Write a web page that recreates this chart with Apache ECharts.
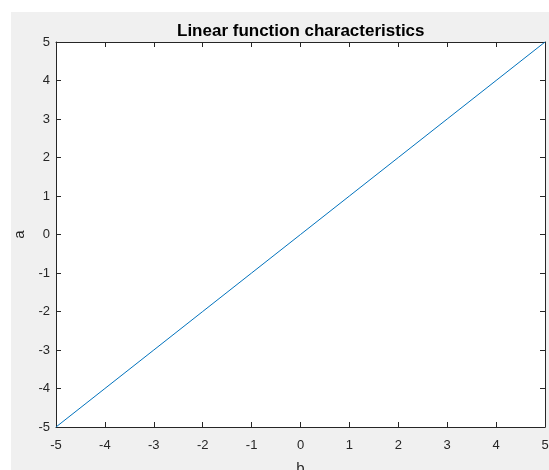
<!DOCTYPE html>
<html>
<head>
<meta charset="utf-8">
<script src="https://cdn.jsdelivr.net/npm/echarts@6/dist/echarts.min.js"></script>
<style>
html,body{margin:0;padding:0;background:#fff;}
#chart{width:549px;height:470px;}
</style>
</head>
<body>
<div id="chart"></div>
<script>
var bValues = [-5, -4, -3, -2, -1, 0, 1, 2, 3, 4, 5];
var aValues = [-5, -4, -3, -2, -1, 0, 1, 2, 3, 4, 5];
var titleText = 'Linear function characteristics';
var xName = 'b';
var yName = 'a';

var data = bValues.map(function (b, i) { return [b, aValues[i]]; });
var font = 'Liberation Sans, Arial, Helvetica, sans-serif';
var axisColor = '#262626';

var chart = echarts.init(document.getElementById('chart'), null, {renderer: 'canvas'});

function mkX(pos, showLabel, name) {
  return {
    type: 'value', min: -5, max: 5, interval: 1, position: pos,
    name: name || '', nameLocation: 'middle', nameGap: 34,
    nameTextStyle: {fontFamily: font, fontSize: 15, color: axisColor},
    axisLine: {show: true, onZero: false, lineStyle: {color: axisColor, width: 1}},
    axisTick: {show: true, inside: true, length: 5, lineStyle: {color: axisColor}},
    axisLabel: {show: showLabel, fontFamily: font, fontSize: 13, color: axisColor, margin: 12},
    splitLine: {show: false}
  };
}
function mkY(pos, showLabel, name) {
  return {
    type: 'value', min: -5, max: 5, interval: 1, position: pos,
    name: name || '', nameLocation: 'middle', nameGap: 25,
    nameTextStyle: {fontFamily: font, fontSize: 15, color: axisColor},
    axisLine: {show: true, onZero: false, lineStyle: {color: axisColor, width: 1}},
    axisTick: {show: true, inside: true, length: 5, lineStyle: {color: axisColor}},
    axisLabel: {show: showLabel, fontFamily: font, fontSize: 13, color: axisColor, margin: 6},
    splitLine: {show: false}
  };
}

chart.setOption({
  animation: false,
  backgroundColor: 'transparent',
  graphic: [{
    type: 'rect', z: -100, silent: true,
    shape: {x: 11, y: 12, width: 538, height: 458},
    style: {fill: '#f0f0f0'}
  }],
  title: {
    text: titleText, left: 172, top: 18,
    textStyle: {fontFamily: font, fontSize: 17, fontWeight: 'bold', color: '#000'}
  },
  grid: {left: 56, top: 42, right: 4, bottom: 43, show: true, backgroundColor: '#fff', borderWidth: 0, outerBoundsMode: 'none', containLabel: false},
  xAxis: [mkX('bottom', true, xName), mkX('top', false)],
  yAxis: [mkY('left', true, yName), mkY('right', false)],
  series: [{
    type: 'line', data: data, xAxisIndex: 0, yAxisIndex: 0,
    showSymbol: false, symbol: 'none',
    lineStyle: {color: '#0072BD', width: 1}
  }]
});
</script>
</body>
</html>
